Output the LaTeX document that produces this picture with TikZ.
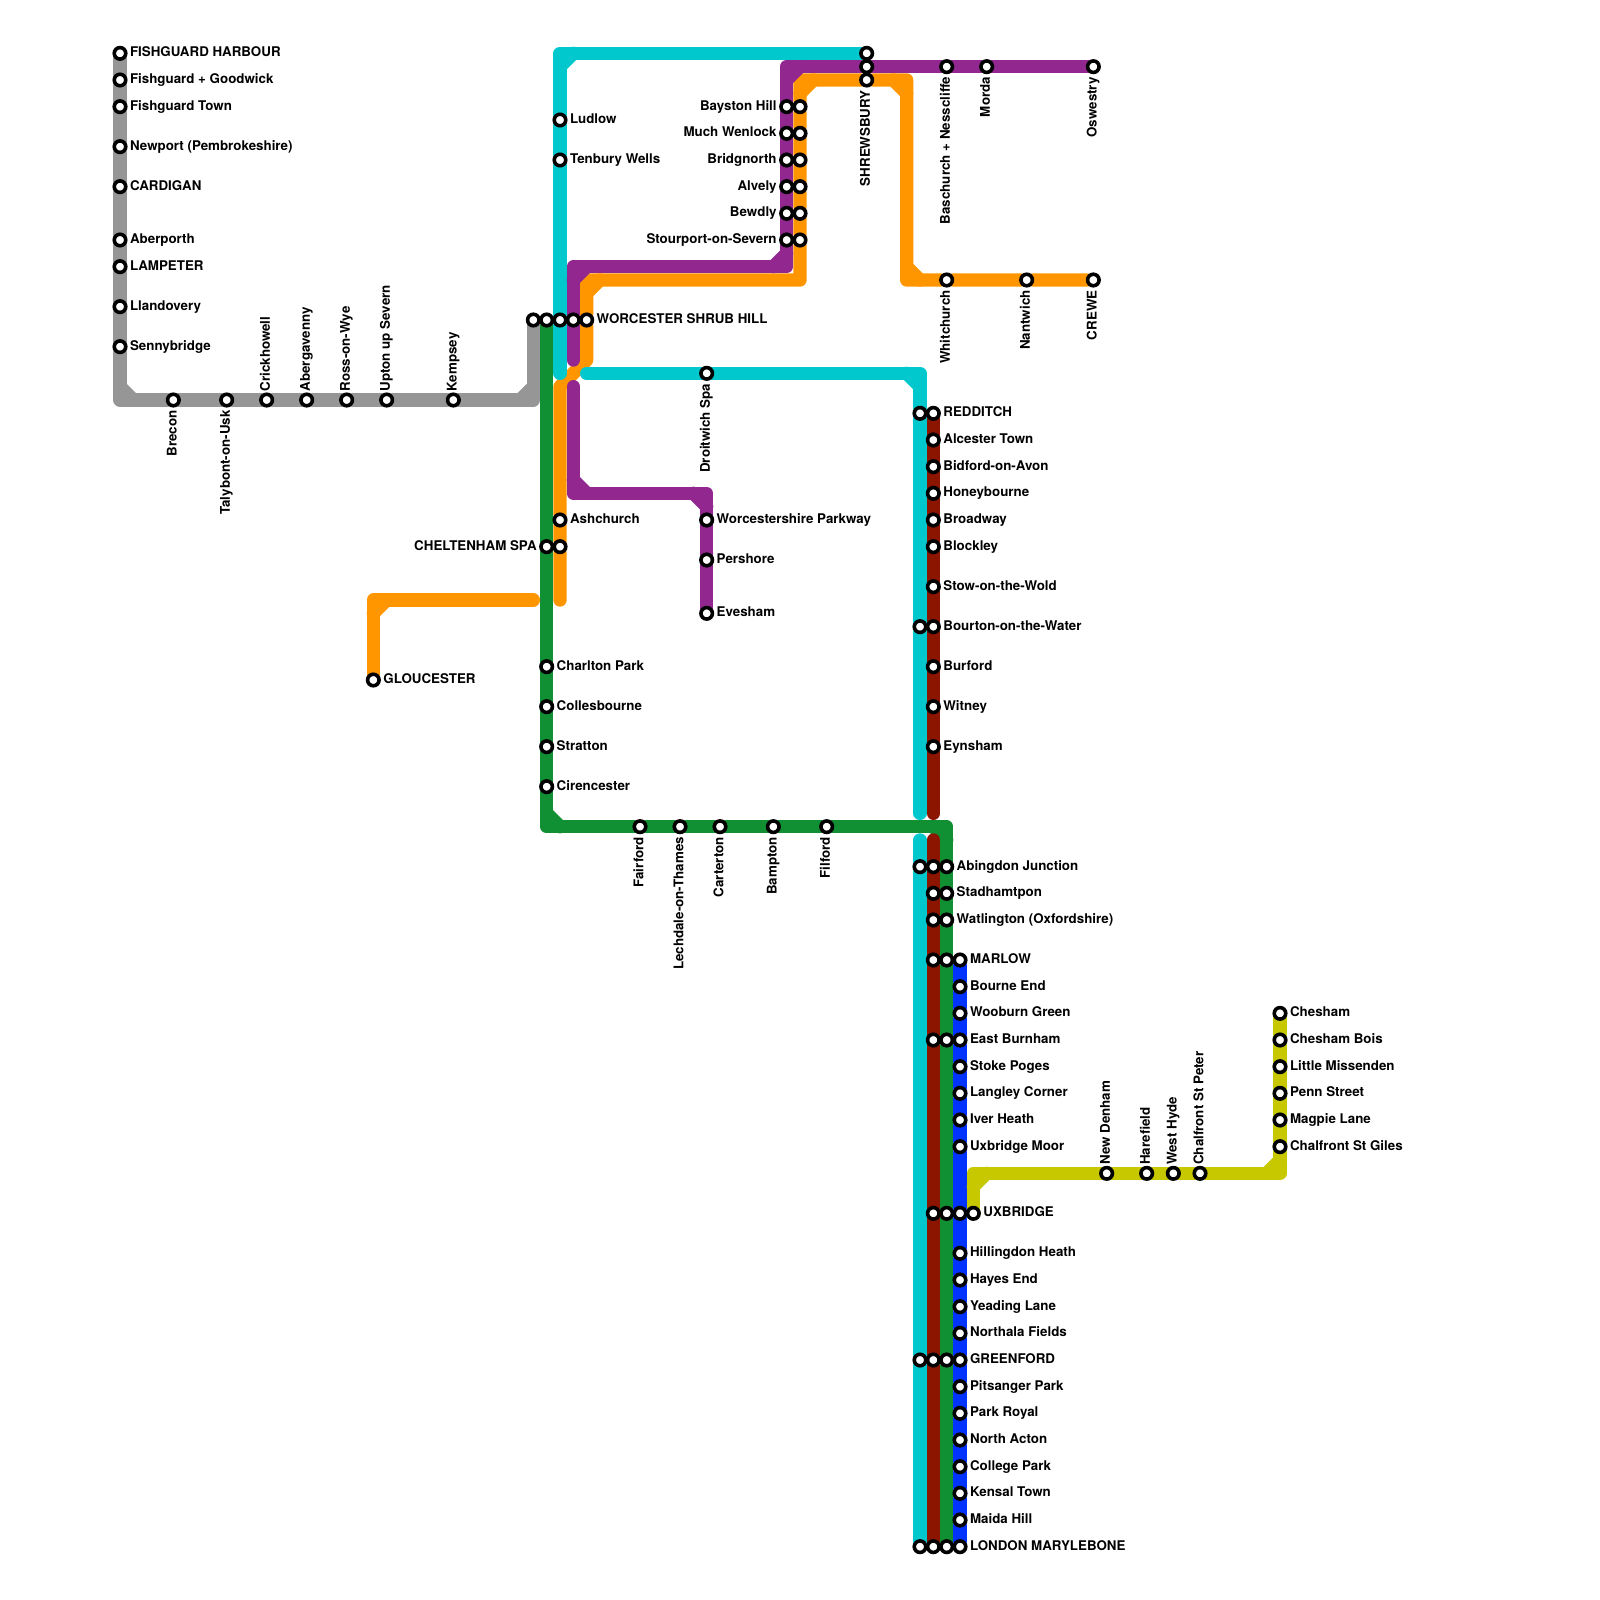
\documentclass[tikz,border=0pt]{standalone}
\usepackage{fontspec}
\setmainfont{TeX Gyre Heros}
\definecolor{mgrey}{HTML}{969696}
\definecolor{mteal}{HTML}{00C8CC}
\definecolor{mpurple}{HTML}{92278F}
\definecolor{morange}{HTML}{FF9600}
\definecolor{mgreen}{HTML}{119033}
\definecolor{mred}{HTML}{8C1500}
\definecolor{mblue}{HTML}{0033FF}
\definecolor{myellow}{HTML}{C8C800}
\usetikzlibrary{calc,backgrounds}
\newcommand{\bevel}[4]{\draw[#1] ($(#2)+(0,#4)$) -- ($(#2)+(#3,0)$);}

\begin{document}
\begin{tikzpicture}[
    x=0.5pt, y=-0.5pt,
    stn/.style={circle, draw=black, fill=white, line width=1.8pt, minimum size=5.75pt, inner sep=0pt, outer sep=0pt},
    lab/.style={font=\fontsize{6.67}{8}\selectfont\bfseries, inner sep=0pt, outer sep=0pt},
    labr/.style={label={[lab, anchor=base west, xshift=2.15pt, yshift=-1.75pt]0:#1}},
    labl/.style={label={[lab, anchor=base east, xshift=-2.15pt, yshift=-1.75pt]180:#1}},
    labu/.style={label={[lab, anchor=base west, xshift=1.65pt, yshift=1.45pt, rotate=90]90:#1}},
    labd/.style={label={[lab, anchor=base east, xshift=1.65pt, yshift=-2.33pt, rotate=90]-90:#1}},
    track/.style={line width=6.67pt, line cap=round, line join=round},
    tgrey/.style={track, draw=mgrey},
    tteal/.style={track, draw=mteal},
    tpurple/.style={track, draw=mpurple},
    torange/.style={track, draw=morange},
    tgreen/.style={track, draw=mgreen},
    tred/.style={track, draw=mred},
    tblue/.style={track, draw=mblue},
    tyellow/.style={track, draw=myellow},
  ]
    \path[use as bounding box] (0,0) rectangle (1600,1600);

    % grey line
    \node[stn, labr=FISHGUARD HARBOUR]     (fishHarbour) at (120,53.33) {};
    \node[stn, labr=Fishguard + Goodwick]  (fishGood)    at (120,80) {};
    \node[stn, labr=Fishguard Town]        (fishTown)    at (120,106.67) {};
    \node[stn, labr=Newport (Pembrokeshire)] (newport)   at (120,146.67) {};
    \node[stn, labr=CARDIGAN]              (cardigan)    at (120,186.67) {};
    \node[stn, labr=Aberporth]             (aberporth)   at (120,240) {};
    \node[stn, labr=LAMPETER]              (lampeter)    at (120,266.67) {};
    \node[stn, labr=Llandovery]            (llandovery)  at (120,306.67) {};
    \node[stn, labr=Sennybridge]           (senny)       at (120,346.67) {};
    \node[stn, labd=Brecon]                (brecon)      at (173.33,400) {};
    \node[stn, labd=Talybont-on-Usk]       (talybont)    at (226.67,400) {};
    \node[stn, labu=Crickhowell]           (crick)       at (266.67,400) {};
    \node[stn, labu=Abergavenny]           (aberg)       at (306.67,400) {};
    \node[stn, labu=Ross-on-Wye]           (ross)        at (346.67,400) {};
    \node[stn, labu=Upton up Severn]       (upton)       at (386.67,400) {};
    \node[stn, labu=Kempsey]               (kempsey)     at (453.33,400) {};

    % worcester row
    \node[stn] (worGrey)   at (533.33,320) {};
    \node[stn] (worGreen)  at (546.67,320) {};
    \node[stn] (worTeal)   at (560,320) {};
    \node[stn] (worPurple) at (573.33,320) {};
    \node[stn, labr=WORCESTER SHRUB HILL] (worOrange) at (586.67,320) {};

    % teal, top half
    \node[stn, labr=Ludlow]        (ludlow)  at (560,120) {};
    \node[stn, labr=Tenbury Wells] (tenbury) at (560,160) {};
    \node[stn]                     (shrTeal) at (866.67,53.33) {};
    \node[stn, labd=Droitwich Spa] (droit)   at (706.67,373.33) {};
    \node[stn]                     (redTeal) at (920,413.33) {};
    \node[stn]                     (bouTeal) at (920,626.67) {};

    % shrewsbury and the two columns under it
    \node[stn] (shrPurple) at (866.67,66.67) {};
    \node[stn, labd=SHREWSBURY] (shrOrange) at (866.67,80) {};
    \node[stn, labl=Bayston Hill]         (bayP) at (786.67,106.67) {};
    \node[stn, labl=Much Wenlock]         (wenP) at (786.67,133.33) {};
    \node[stn, labl=Bridgnorth]           (briP) at (786.67,160) {};
    \node[stn, labl=Alvely]               (alvP) at (786.67,186.67) {};
    \node[stn, labl=Bewdly]               (bewP) at (786.67,213.33) {};
    \node[stn, labl=Stourport-on-Severn]  (stoP) at (786.67,240) {};
    \node[stn] (bayO) at (800,106.67) {};
    \node[stn] (wenO) at (800,133.33) {};
    \node[stn] (briO) at (800,160) {};
    \node[stn] (alvO) at (800,186.67) {};
    \node[stn] (bewO) at (800,213.33) {};
    \node[stn] (stoO) at (800,240) {};
    \node[stn, labd={Baschurch + Nesscliffe}] (baschurch) at (946.67,66.67) {};
    \node[stn, labd=Morda]      (morda)      at (986.67,66.67) {};
    \node[stn, labd=Oswestry]   (oswestry)   at (1093.33,66.67) {};
    \node[stn, labd=Whitchurch] (whitchurch) at (946.67,280) {};
    \node[stn, labd=Nantwich]   (nantwich)   at (1026.67,280) {};
    \node[stn, labd=CREWE]      (crewe)      at (1093.33,280) {};

    % purple branch, orange spur
    \node[stn, labr=Worcestershire Parkway] (parkway) at (706.67,520) {};
    \node[stn, labr=Pershore] (pershore) at (706.67,560) {};
    \node[stn, labr=Evesham]  (evesham)  at (706.67,613.33) {};
    \node[stn, labr=Ashchurch] (ashchurch) at (560,520) {};
    \node[stn, labl=CHELTENHAM SPA] (chelGreen) at (546.67,546.67) {};
    \node[stn] (chelOrange) at (560,546.67) {};
    \node[stn, labr=GLOUCESTER] (gloucester) at (373.33,680) {};

    % green
    \node[stn, labr=Charlton Park] (charlton) at (546.67,666.67) {};
    \node[stn, labr=Collesbourne]  (colles)   at (546.67,706.67) {};
    \node[stn, labr=Stratton]      (stratton) at (546.67,746.67) {};
    \node[stn, labr=Cirencester]   (ciren)    at (546.67,786.67) {};
    \node[stn, labd=Fairford]      (fairford) at (640,826.67) {};
    \node[stn, labd=Lechdale-on-Thames] (lechdale) at (680,826.67) {};
    \node[stn, labd=Carterton]     (carterton) at (720,826.67) {};
    \node[stn, labd=Bampton]       (bampton)  at (773.33,826.67) {};
    \node[stn, labd=Filford]       (filford)  at (826.67,826.67) {};

    % dark red, upper part
    \node[stn, labr=REDDITCH]      (redditch) at (933.33,413.33) {};
    \node[stn, labr=Alcester Town] (alcester) at (933.33,440) {};
    \node[stn, labr=Bidford-on-Avon] (bidford) at (933.33,466.67) {};
    \node[stn, labr=Honeybourne]   (honey)    at (933.33,493.33) {};
    \node[stn, labr=Broadway]      (broadway) at (933.33,520) {};
    \node[stn, labr=Blockley]      (blockley) at (933.33,546.67) {};
    \node[stn, labr=Stow-on-the-Wold] (stow)  at (933.33,586.67) {};
    \node[stn, labr=Bourton-on-the-Water] (bourton) at (933.33,626.67) {};
    \node[stn, labr=Burford]       (burford)  at (933.33,666.67) {};
    \node[stn, labr=Witney]        (witney)   at (933.33,706.67) {};
    \node[stn, labr=Eynsham]       (eynsham)  at (933.33,746.67) {};

    % trunk, teal and red columns
    \node[stn] (abiTeal) at (920,866.67) {};
    \node[stn] (greTeal) at (920,1360) {};
    \node[stn] (lonTeal) at (920,1546.67) {};
    \node[stn] (abiRed)  at (933.33,866.67) {};
    \node[stn] (staRed)  at (933.33,893.33) {};
    \node[stn] (watRed)  at (933.33,920) {};
    \node[stn] (marRed)  at (933.33,960) {};
    \node[stn] (easRed)  at (933.33,1040) {};
    \node[stn] (uxbRed)  at (933.33,1213.33) {};
    \node[stn] (greRed)  at (933.33,1360) {};
    \node[stn] (lonRed)  at (933.33,1546.67) {};

    % trunk, green column
    \node[stn, labr=Abingdon Junction] (abiGreen) at (946.67,866.67) {};
    \node[stn, labr=Stadhamtpon]       (staGreen) at (946.67,893.33) {};
    \node[stn, labr=Watlington (Oxfordshire)] (watGreen) at (946.67,920) {};
    \node[stn] (marGreen) at (946.67,960) {};
    \node[stn] (easGreen) at (946.67,1040) {};
    \node[stn] (uxbGreen) at (946.67,1213.33) {};
    \node[stn] (greGreen) at (946.67,1360) {};
    \node[stn] (lonGreen) at (946.67,1546.67) {};

    % blue
    \node[stn, labr=MARLOW]        (marlow)  at (960,960) {};
    \node[stn, labr=Bourne End]    (bourne)  at (960,986.67) {};
    \node[stn, labr=Wooburn Green] (wooburn) at (960,1013.33) {};
    \node[stn, labr=East Burnham]  (burnham) at (960,1040) {};
    \node[stn, labr=Stoke Poges]   (stoke)   at (960,1066.67) {};
    \node[stn, labr=Langley Corner] (langley) at (960,1093.33) {};
    \node[stn, labr=Iver Heath]    (iver)    at (960,1120) {};
    \node[stn, labr=Uxbridge Moor] (uxmoor)  at (960,1146.67) {};
    \node[stn]                     (uxbBlue) at (960,1213.33) {};
    \node[stn, labr=Hillingdon Heath] (hilling) at (960,1253.33) {};
    \node[stn, labr=Hayes End]     (hayes)   at (960,1280) {};
    \node[stn, labr=Yeading Lane]  (yeading) at (960,1306.67) {};
    \node[stn, labr=Northala Fields] (northala) at (960,1333.33) {};
    \node[stn, labr=GREENFORD]     (greenford) at (960,1360) {};
    \node[stn, labr=Pitsanger Park] (pitsanger) at (960,1386.67) {};
    \node[stn, labr=Park Royal]    (royal)   at (960,1413.33) {};
    \node[stn, labr=North Acton]   (acton)   at (960,1440) {};
    \node[stn, labr=College Park]  (college) at (960,1466.67) {};
    \node[stn, labr=Kensal Town]   (kensal)  at (960,1493.33) {};
    \node[stn, labr=Maida Hill]    (maida)   at (960,1520) {};
    \node[stn, labr=LONDON MARYLEBONE] (london) at (960,1546.67) {};

    % yellow
    \node[stn, labr=UXBRIDGE]   (uxbridge) at (973.33,1213.33) {};
    \node[stn, labu=New Denham] (denham)   at (1106.67,1173.33) {};
    \node[stn, labu=Harefield]  (harefield) at (1146.67,1173.33) {};
    \node[stn, labu=West Hyde]  (hyde)     at (1173.33,1173.33) {};
    \node[stn, labu=Chalfront St Peter] (peter) at (1200,1173.33) {};
    \node[stn, labr=Chalfront St Giles] (giles) at (1280,1146.67) {};
    \node[stn, labr=Magpie Lane]  (magpie)  at (1280,1120) {};
    \node[stn, labr=Penn Street]  (penn)    at (1280,1093.33) {};
    \node[stn, labr=Little Missenden] (missenden) at (1280,1066.67) {};
    \node[stn, labr=Chesham Bois] (bois)    at (1280,1040) {};
    \node[stn, labr=Chesham]      (chesham) at (1280,1013.33) {};

    % corners and free ends
    \coordinate (cGreyA)  at (120,400);
    \coordinate (cGreyB)  at (533.33,400);
    \coordinate (cTealA)  at (560,53.33);
    \coordinate (eTealA)  at (560,373.33);
    \coordinate (sTealB)  at (586.67,373.33);
    \coordinate (cTealB)  at (920,373.33);
    \coordinate (eTealB)  at (920,813.33);
    \coordinate (sTealC)  at (920,840);
    \coordinate (cPurA)   at (786.67,66.67);
    \coordinate (cPurB)   at (786.67,266.67);
    \coordinate (cPurC)   at (573.33,266.67);
    \coordinate (ePurA)   at (573.33,360);
    \coordinate (sPurB)   at (573.33,386.67);
    \coordinate (cPurD)   at (573.33,493.33);
    \coordinate (cPurE)   at (706.67,493.33);
    \coordinate (cOraA)   at (906.67,280);
    \coordinate (cOraB)   at (906.67,80);
    \coordinate (cOraC)   at (800,80);
    \coordinate (cOraD)   at (800,280);
    \coordinate (cOraE)   at (586.67,280);
    \coordinate (jOraA)   at (586.67,360);
    \coordinate (jOraB)   at (560,386.67);
    \coordinate (eOraA)   at (560,600);
    \coordinate (sOraB)   at (533.33,600);
    \coordinate (cOraF)   at (373.33,600);
    \coordinate (cGreA)   at (546.67,826.67);
    \coordinate (cGreB)   at (946.67,826.67);
    \coordinate (eRedA)   at (933.33,813.33);
    \coordinate (sRedB)   at (933.33,840);
    \coordinate (cYelA)   at (973.33,1173.33);
    \coordinate (cYelB)   at (1280,1173.33);

    \begin{scope}[on background layer]
      \draw[torange] (crewe) -- (nantwich) -- (whitchurch) -- (cOraA) -- (cOraB) -- (shrOrange) -- (cOraC)
        -- (bayO) -- (wenO) -- (briO) -- (alvO) -- (bewO) -- (stoO) -- (cOraD) -- (cOraE) -- (worOrange)
        -- (jOraA) -- (jOraB) -- (ashchurch) -- (chelOrange) -- (eOraA);
      \draw[torange] (sOraB) -- (cOraF) -- (gloucester);
      \bevel{torange}{cOraA}{13.33}{-13.33}
      \bevel{torange}{cOraB}{-13.33}{13.33}
      \bevel{torange}{cOraC}{13.33}{13.33}
      \bevel{torange}{cOraE}{13.33}{13.33}
      \bevel{torange}{cOraF}{13.33}{13.33}

      \draw[tgreen] (worGreen) -- (chelGreen) -- (charlton) -- (colles) -- (stratton) -- (ciren) -- (cGreA)
        -- (fairford) -- (lechdale) -- (carterton) -- (bampton) -- (filford) -- (cGreB) -- (abiGreen)
        -- (staGreen) -- (watGreen) -- (marGreen) -- (easGreen) -- (uxbGreen) -- (greGreen) -- (lonGreen);
      \bevel{tgreen}{cGreA}{13.33}{-13.33}
      \bevel{tgreen}{cGreB}{-13.33}{13.33}

      \draw[tteal] (shrTeal) -- (cTealA) -- (ludlow) -- (tenbury) -- (worTeal) -- (eTealA);
      \draw[tteal] (sTealB) -- (droit) -- (cTealB) -- (redTeal) -- (bouTeal) -- (eTealB);
      \draw[tteal] (sTealC) -- (abiTeal) -- (greTeal) -- (lonTeal);
      \bevel{tteal}{cTealA}{13.33}{13.33}
      \bevel{tteal}{cTealB}{-13.33}{13.33}

      \draw[tpurple] (oswestry) -- (morda) -- (baschurch) -- (shrPurple) -- (cPurA) -- (bayP) -- (wenP)
        -- (briP) -- (alvP) -- (bewP) -- (stoP) -- (cPurB) -- (cPurC) -- (worPurple) -- (ePurA);
      \draw[tpurple] (sPurB) -- (cPurD) -- (cPurE) -- (parkway) -- (pershore) -- (evesham);
      \bevel{tpurple}{cPurA}{13.33}{13.33}
      \bevel{tpurple}{cPurB}{-13.33}{-13.33}
      \bevel{tpurple}{cPurC}{13.33}{13.33}
      \bevel{tpurple}{cPurD}{13.33}{-13.33}
      \bevel{tpurple}{cPurE}{-13.33}{13.33}

      \draw[tgrey] (fishHarbour) -- (fishGood) -- (fishTown) -- (newport) -- (cardigan) -- (aberporth)
        -- (lampeter) -- (llandovery) -- (senny) -- (cGreyA) -- (brecon) -- (talybont) -- (crick) -- (aberg)
        -- (ross) -- (upton) -- (kempsey) -- (cGreyB) -- (worGrey);
      \bevel{tgrey}{cGreyA}{13.33}{-13.33}
      \bevel{tgrey}{cGreyB}{-13.33}{-13.33}

      \draw[tred] (redditch) -- (alcester) -- (bidford) -- (honey) -- (broadway) -- (blockley) -- (stow)
        -- (bourton) -- (burford) -- (witney) -- (eynsham) -- (eRedA);
      \draw[tred] (sRedB) -- (abiRed) -- (staRed) -- (watRed) -- (marRed) -- (easRed) -- (uxbRed)
        -- (greRed) -- (lonRed);

      \draw[tblue] (marlow) -- (bourne) -- (wooburn) -- (burnham) -- (stoke) -- (langley) -- (iver)
        -- (uxmoor) -- (uxbBlue) -- (hilling) -- (hayes) -- (yeading) -- (northala) -- (greenford)
        -- (pitsanger) -- (royal) -- (acton) -- (college) -- (kensal) -- (maida) -- (london);

      \draw[tyellow] (uxbridge) -- (cYelA) -- (denham) -- (harefield) -- (hyde) -- (peter) -- (cYelB)
        -- (giles) -- (magpie) -- (penn) -- (missenden) -- (bois) -- (chesham);
      \bevel{tyellow}{cYelA}{13.33}{13.33}
      \bevel{tyellow}{cYelB}{-13.33}{-13.33}
    \end{scope}
  \end{tikzpicture}
\end{document}
